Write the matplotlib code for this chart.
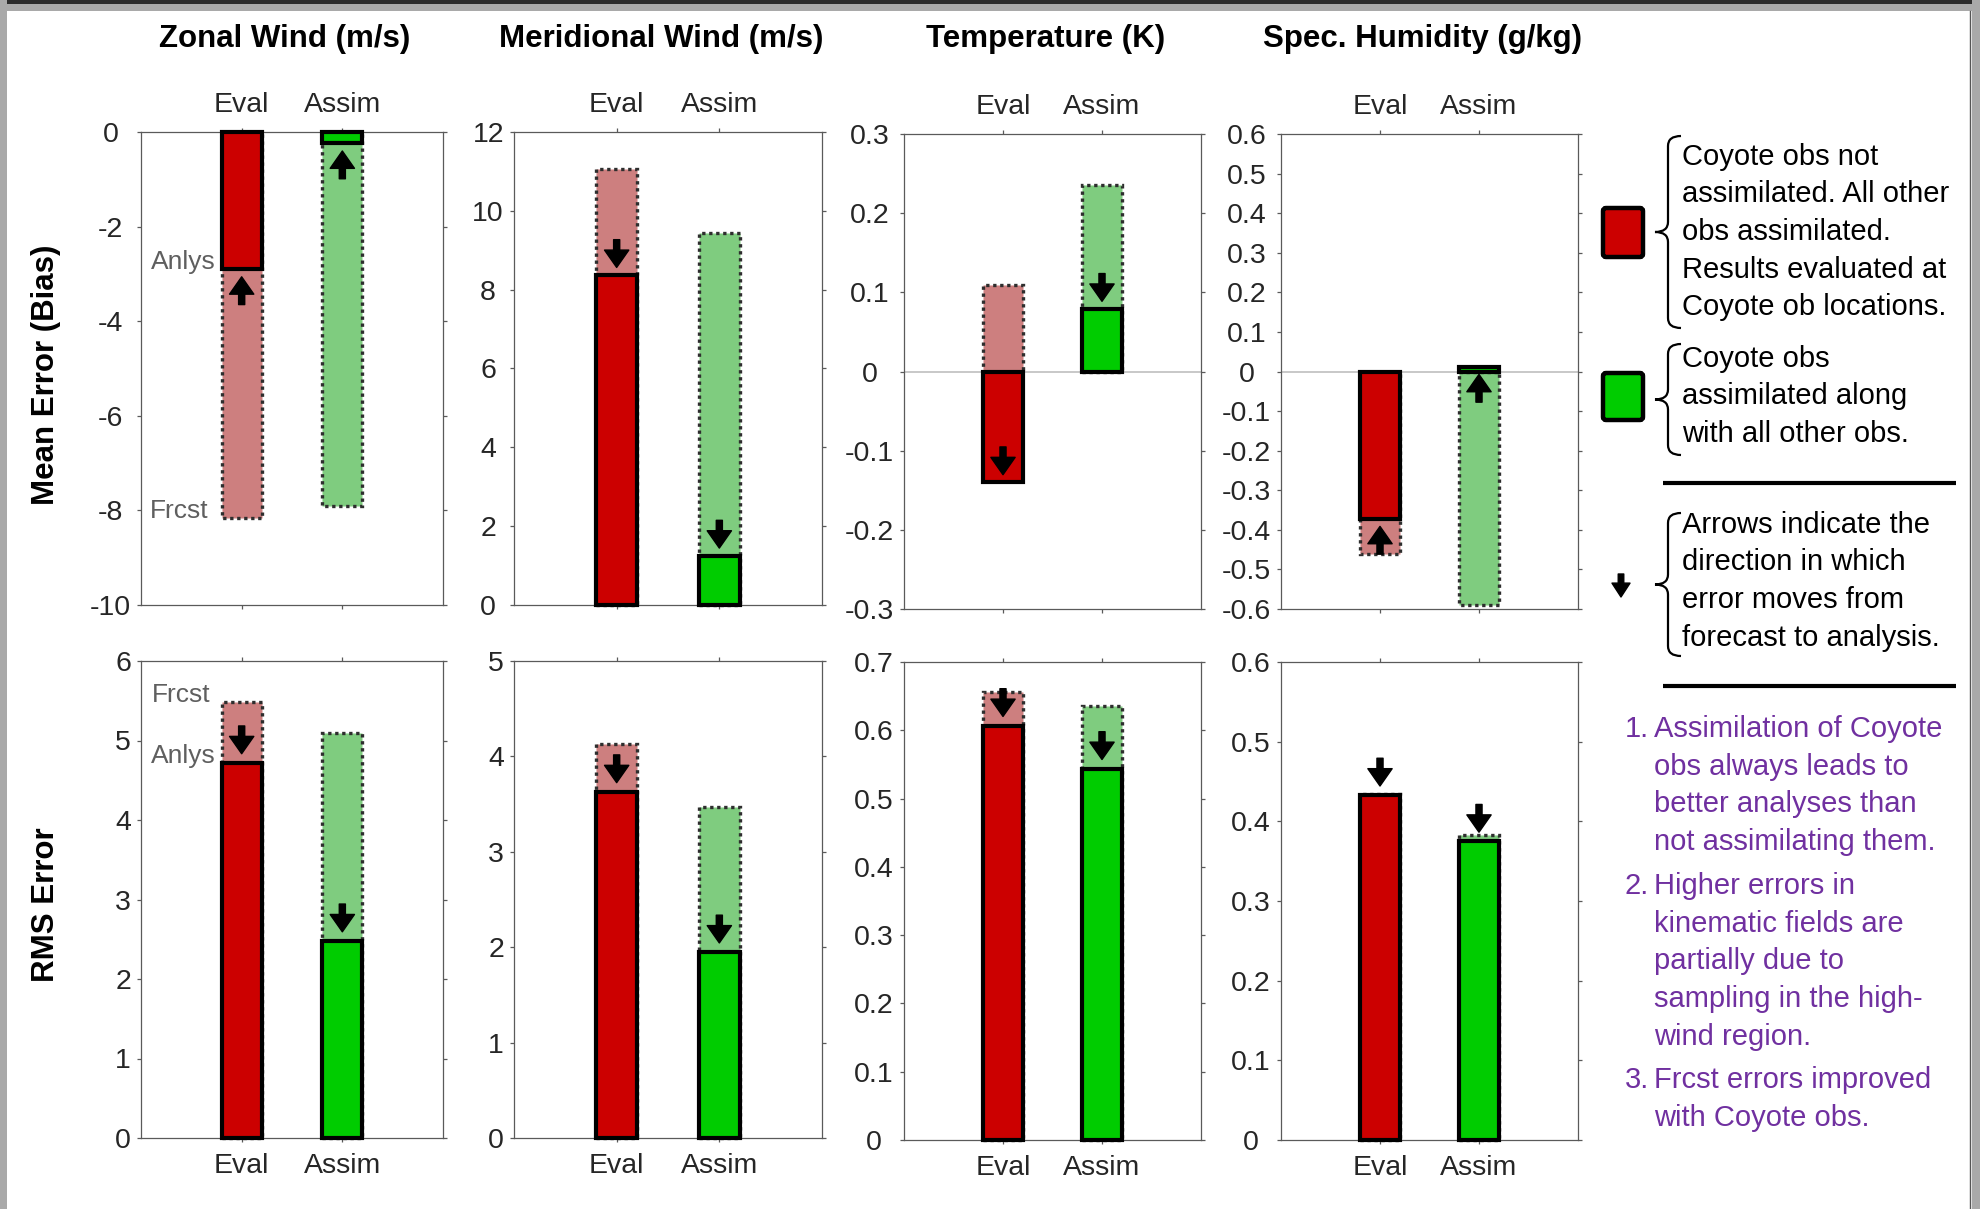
import numpy as np
import matplotlib
matplotlib.use("Agg")
import matplotlib.pyplot as plt
from matplotlib.patches import Rectangle, FancyBboxPatch, PathPatch
from matplotlib.path import Path

# ---------------- data ----------------
titles = ["Zonal Wind (m/s)", "Meridional Wind (m/s)", "Temperature (K)", "Spec. Humidity (g/kg)"]
groups = ["Eval", "Assim"]
row_labels = ["Mean Error (Bias)", "RMS Error"]

bias_frcst_eval = [-8.16, 11.05, 0.109, -0.460]
bias_anlys_eval = [-2.90, 8.37, -0.140, -0.372]
bias_frcst_assim = [-7.90, 9.43, 0.236, -0.590]
bias_anlys_assim = [-0.24, 1.25, 0.079, 0.012]

rms_frcst_eval = [5.48, 4.13, 0.656, 0.434]
rms_anlys_eval = [4.72, 3.63, 0.607, 0.433]
rms_frcst_assim = [5.09, 3.47, 0.636, 0.383]
rms_anlys_assim = [2.48, 1.95, 0.544, 0.375]

bias_ylims = [(-10, 0), (0, 12), (-0.3, 0.3), (-0.6, 0.6)]
bias_ysteps = [2, 2, 0.1, 0.1]
rms_ylims = [(0, 6), (0, 5), (0, 0.7), (0, 0.6)]
rms_ysteps = [1, 1, 0.1, 0.1]

legend_red = ["Coyote obs not", "assimilated. All other", "obs assimilated.",
              "Results evaluated at", "Coyote ob locations."]
legend_green = ["Coyote obs", "assimilated along", "with all other obs."]
legend_arrow = ["Arrows indicate the", "direction in which", "error moves from",
                "forecast to analysis."]
notes = [("1.", ["Assimilation of Coyote", "obs always leads to", "better analyses than",
                 "not assimilating them."]),
         ("2.", ["Higher errors in", "kinematic fields are", "partially due to",
                 "sampling in the high-", "wind region."]),
         ("3.", ["Frcst errors improved", "with Coyote obs."])]

# ---------------- style ----------------
W, H, DPI = 1981, 1209, 100
FONT = "Liberation Sans"
plt.rcParams["font.family"] = [FONT, "DejaVu Sans"]
plt.rcParams["axes.unicode_minus"] = False

RED, GREEN = "#CC0000", "#00CC00"
LRED, LGREEN = "#CD7F7F", "#7FCC7F"
SPINE = "#5a5a5a"
TICKC = "#262626"
PURPLE = "#7030A0"
TICKLEN = 3.0
ARROW = "simple,head_length=12.5,head_width=17.5,tail_width=4.4"

fig = plt.figure(figsize=(W / DPI, H / DPI), dpi=DPI)
fig.patch.set_facecolor("white")

# overlay axes in pixel coordinates (for legend / notes / frame)
ov = fig.add_axes([0, 0, 1, 1])
ov.set_xlim(0, W)
ov.set_ylim(H, 0)
ov.axis("off")

# frame strips (screenshot border)
ov.add_patch(Rectangle((0, 0), W, 4, color="#2b2b2b", lw=0))
ov.add_patch(Rectangle((0, 4), W, 7, color="#a9a9a9", lw=0))
ov.add_patch(Rectangle((0, 0), 7, H, color="#a9a9a9", lw=0))
ov.add_patch(Rectangle((1972, 0), W - 1972, H, color="#a9a9a9", lw=0))
ov.plot([1970, 1970], [11, H], color="#555555", lw=1)

col_x = [(141, 443), (514, 822), (904, 1201), (1281, 1578)]
row_y = [[(132, 605), (132, 605), (134, 609), (134, 609)],
         [(661, 1138), (661, 1138), (662, 1140), (662, 1140)]]


def rect(x0, x1, yt, yb):
    return [x0 / W, 1 - yb / H, (x1 - x0) / W, (yb - yt) / H]


def fmt(v):
    v = 0.0 if abs(v) < 1e-9 else v
    return f"{v:g}"


axes = []


def draw_panel(ax, frcst, anlys, ylim, step, top):
    x = np.arange(1, len(groups) + 1)
    ax.set_xlim(0, 3)
    ax.set_ylim(*ylim)
    if ylim[0] < 0 < ylim[1]:
        ax.axhline(0, color="#c4c4c4", lw=1.3, zorder=1)
    ax.bar(x, frcst, width=0.4, color=[LRED, LGREEN], edgecolor="#2e2e2e",
           linestyle=(0, (1.0, 1.1)), linewidth=2.4, zorder=2, clip_on=False)
    ax.bar(x, anlys, width=0.4, color=[RED, GREEN], edgecolor="black",
           linewidth=3.0, zorder=3, clip_on=False)
    gap = 5.5 if top else 6.5
    for xi, f, a in zip(x, frcst, anlys):
        sgn = 1 if f >= a else -1
        ax.annotate("", xy=(xi, a), xytext=(0, sgn * (20.0 + gap)), textcoords="offset points",
                    arrowprops=dict(arrowstyle=ARROW, color="black", shrinkA=0,
                                    shrinkB=gap, mutation_scale=1), zorder=6)
    ticks = np.round(np.arange(ylim[0], ylim[1] + step / 2, step), 6)
    ax.set_yticks(ticks, [fmt(t) for t in ticks], ha="center")
    ax.set_xticks(x, groups)
    for s in ax.spines.values():
        s.set_color(SPINE)
        s.set_linewidth(0.9)
    ax.tick_params(axis="both", direction="out", length=TICKLEN, width=0.9,
                   color=SPINE, labelcolor=TICKC, labelsize=20.5)
    ax.tick_params(axis="y", left=True, right=True, labelleft=True, labelright=False)
    if top:
        ax.tick_params(axis="x", top=True, bottom=True, labeltop=True,
                       labelbottom=False, pad=7)
    else:
        ax.tick_params(axis="x", top=True, bottom=True, labeltop=False,
                       labelbottom=True, pad=8)


for i in range(4):
    x0, x1 = col_x[i]
    yt, yb = row_y[0][i]
    ax = fig.add_axes(rect(x0, x1, yt, yb))
    draw_panel(ax, [bias_frcst_eval[i], bias_frcst_assim[i]],
               [bias_anlys_eval[i], bias_anlys_assim[i]],
               bias_ylims[i], bias_ysteps[i], True)
    axes.append(ax)
    fig.text((x0 + x1) / 2 / W - 7 / W, 1 - 46.5 / H, titles[i], ha="center",
             va="baseline", fontsize=22.5, fontweight="bold", color="black")
for i in range(4):
    x0, x1 = col_x[i]
    yt, yb = row_y[1][i]
    ax = fig.add_axes(rect(x0, x1, yt, yb))
    draw_panel(ax, [rms_frcst_eval[i], rms_frcst_assim[i]],
               [rms_anlys_eval[i], rms_anlys_assim[i]],
               rms_ylims[i], rms_ysteps[i], False)
    axes.append(ax)

# Frcst / Anlys annotations in first column
lab_kw = dict(ha="right", va="baseline", fontsize=19, color="#5f5f5f", zorder=7)
axes[0].text(0.74, bias_anlys_eval[0], "Anlys", **lab_kw)
axes[0].text(0.67, bias_frcst_eval[0], "Frcst", **lab_kw)
axes[4].text(0.74, rms_anlys_eval[0], "Anlys", **lab_kw)
axes[4].text(0.69, rms_frcst_eval[0], "Frcst", **lab_kw)

# row labels
fig.text(46 / W, 1 - 375 / H, row_labels[0], rotation=90, ha="center", va="center",
         fontsize=22.5, fontweight="bold")
fig.text(46 / W, 1 - 905 / H, row_labels[1], rotation=90, ha="center", va="center",
         fontsize=22.5, fontweight="bold")

# ---------------- legend ----------------
def brace(x_tip, x_end, y0, y1, d=10):
    xm = (x_tip + x_end) / 2
    ym = (y0 + y1) / 2
    verts = [(x_end, y0), (xm, y0), (xm, y0 + d),
             (xm, ym - d),
             (xm, ym), (x_tip, ym),
             (xm, ym), (xm, ym + d),
             (xm, y1 - d),
             (xm, y1), (x_end, y1)]
    codes = [Path.MOVETO, Path.CURVE3, Path.CURVE3, Path.LINETO,
             Path.CURVE3, Path.CURVE3, Path.CURVE3, Path.CURVE3,
             Path.LINETO, Path.CURVE3, Path.CURVE3]
    ov.add_patch(PathPatch(Path(verts, codes), fill=False, lw=1.6, color="black"))


for (yt, yb), fc in [((208, 257), RED), ((373, 420), GREEN)]:
    ov.add_patch(FancyBboxPatch((1603, yt), 40, yb - yt,
                                boxstyle="round,pad=0,rounding_size=3",
                                fc=fc, ec="black", lw=3.2))
ov.annotate("", xy=(1621, 597), xytext=(1621, 574), xycoords="data", textcoords="data",
            arrowprops=dict(arrowstyle="simple,head_length=10,head_width=13,tail_width=4",
                            color="black", shrinkA=0, shrinkB=0, mutation_scale=1))

brace(1655, 1681, 136, 328)
brace(1655, 1681, 344, 455)
brace(1655, 1681, 513, 656)

txt_kw = dict(ha="left", va="baseline", fontsize=21, color="black")
for j, line in enumerate(legend_red):
    ov.text(1682, 165 + j * 37.5, line, **txt_kw)
for j, line in enumerate(legend_green):
    ov.text(1682, 367 + j * 37.5, line, **txt_kw)
for j, line in enumerate(legend_arrow):
    ov.text(1682, 533 + j * 37.5, line, **txt_kw)

ov.plot([1663, 1956], [483, 483], color="black", lw=3, solid_capstyle="butt")
ov.plot([1663, 1956], [686, 686], color="black", lw=3, solid_capstyle="butt")

note_kw = dict(va="baseline", fontsize=21, color=PURPLE)
y = 737
for num, lines in notes:
    ov.text(1625, y, num, ha="left", **note_kw)
    for line in lines:
        ov.text(1654, y, line, ha="left", **note_kw)
        y += 37.7
    y += 6

# ---------------- centre y tick labels in a column ----------------
fig.canvas.draw()
renderer = fig.canvas.get_renderer()
for ax in axes:
    ws = [t.get_window_extent(renderer).width for t in ax.get_yticklabels() if t.get_text()]
    mw = max(ws)
    pad_pt = (10 + mw / 2) * 72 / DPI - TICKLEN
    ax.tick_params(axis="y", pad=pad_pt)

fig.savefig("out.png", dpi=DPI, facecolor="white")
